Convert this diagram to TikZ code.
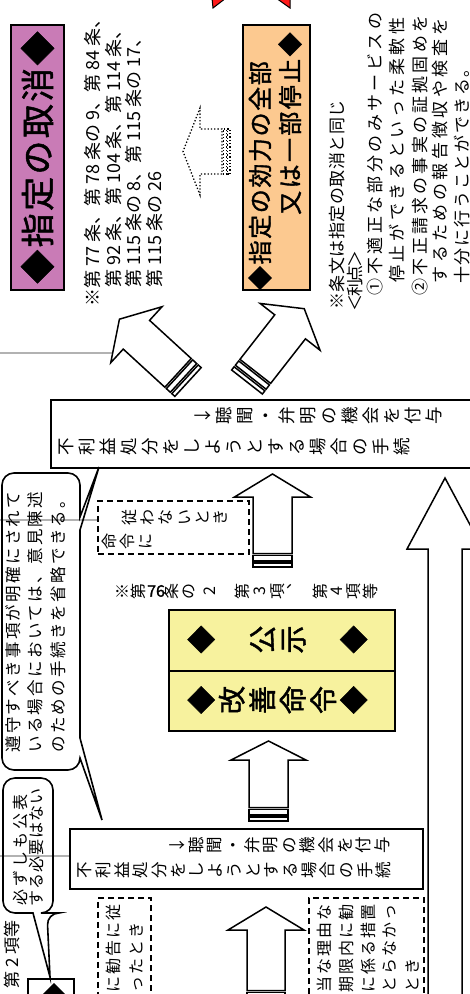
\documentclass[tikz,border=0pt]{standalone}
\usepackage{fontspec}
\usepackage{graphicx}
\setmainfont{Noto Sans CJK JP}
\newfontfamily\jpbold[FakeBold=1.5]{Noto Sans CJK JP}
\usetikzlibrary{calc}
\definecolor{pinkbox}{HTML}{C97BB6}
\definecolor{orangebox}{HTML}{FCC990}
\definecolor{yellowbox}{HTML}{F7F29E}
\definecolor{redarrow}{HTML}{FF1A1A}
\newcommand\fs[1]{\fontsize{#1}{#1}\selectfont}
\makeatletter
% horizontal text with a fixed pitch per character
\newcommand\yoko[2]{\def\yk@w{#1}\@tfor\yk@c:=#2\do{\makebox[\yk@w][c]{\yk@c}}}
% vertical column of upright characters (the node is then rotated)
\newcommand\tatecol[2]{\vbox{\baselineskip=#1\relax\lineskiplimit=-100pt\lineskip=0pt\@tfor\yk@c:=#2\do{\hbox to 1.1em{\hss\rule[-.12em]{0pt}{1em}\yk@c\hss}}}}
\makeatother
\tikzset{
  box/.style={draw, line width=1.8pt, inner sep=0pt},
  dashedbox/.style={draw, dash pattern=on 6pt off 4pt, line width=1.8pt, inner sep=0pt},
  txt/.style={inner sep=0pt},
  tcol/.style={inner sep=0pt, rotate=90, anchor=north},
  bubble/.style={draw, line width=1.6pt, line join=miter},
  grayline/.style={draw=black!30, line width=2.5pt},
  sarrowpart/.style={draw, fill=white, line width=1.5pt, line join=miter},
  pics/sarrow/.style args={#1/#2/#3/#4/#5}{code={%
    \path[sarrowpart] (0,-#3) rectangle ({0.3*#5},#3);
    \path[sarrowpart] ({0.45*#5},-#3) rectangle ({0.85*#5},#3);
    \path[sarrowpart] (#5,-#3) -- ({#1-#2},-#3) -- ({#1-#2},-#4) -- (#1,0) -- ({#1-#2},#4) -- ({#1-#2},#3) -- (#5,#3) -- cycle;
  }},
}
\begin{document}
\begin{tikzpicture}[x=1pt,y=-1pt]
\clip (0,0) rectangle (470,994);
\fill[white] (0,0) rectangle (470,994);

% gray leftover lines
\path[grayline] (0,353) -- (112,353);
\path[grayline] (0,520) -- (97,520);
\path[grayline] (0,856) -- (69,856);

% red arrow barbs at top
\draw[fill=redarrow, line width=1pt] (212,-2) -- (213,8) -- (226,-2) -- cycle;
\draw[fill=redarrow, line width=1pt] (276,-2) -- (290,8) -- (290,-2) -- cycle;

% top boxes
\node[box, fill=pinkbox, rotate=90, minimum width=265pt, minimum height=53pt, line width=2.2pt] (torikeshi) at (37.5,157.5) {\jpbold\fs{34}\yoko{36.4pt}{◆指定の取消◆}};
\node[box, fill=orangebox, rotate=90, minimum width=265pt, minimum height=67pt, line width=2.2pt] (teishi) at (276.5,157.5) {};
\node[txt, rotate=90, anchor=west] (teishiA) at (260,291) {\jpbold\fs{24}\yoko{25.6pt}{◆指定の効力の全部}};
\node[txt, rotate=90, anchor=east] (teishiB) at (290,31) {\jpbold\fs{24}\yoko{26.4pt}{又は一部停止◆}};

% article list
\node[txt, rotate=90, anchor=west, font=\fs{18}] (j1) at (92.5,307) {※第 77 条、第 78 条の 9、第 84 条、};
\node[txt, rotate=90, anchor=west, font=\fs{18}] (j2) at (113.5,288) {第 92 条、第 104 条、第 114 条、};
\node[txt, rotate=90, anchor=west, font=\fs{18}] (j3) at (134,288) {第 115 条の 8、第 115 条の 17、};
\node[txt, rotate=90, anchor=west, font=\fs{18}] (j4) at (155,288) {第 115 条の 26};

% notes on the right
\node[txt, rotate=90, anchor=west] (n1) at (337,310) {\fs{17}\yoko{17.5pt}{※条文は指定の取消と同じ}};
\node[txt, rotate=90, anchor=west] (n2) at (355,310) {\fs{17}\yoko{14.5pt}{＜利点＞}};
\node[txt, rotate=90, anchor=west] (n3) at (375,297) {\fs{17}\yoko{20.4pt}{①不適正な部分のみサービスの}};
\node[txt, rotate=90, anchor=west] (n4) at (397,285) {\fs{17}\yoko{20.7pt}{停止ができるといった柔軟性}};
\node[txt, rotate=90, anchor=west] (n5) at (420,297) {\fs{17}\yoko{20.2pt}{②不正請求の事実の証拠固めを}};
\node[txt, rotate=90, anchor=west] (n6) at (440,285) {\fs{17}\yoko{20.6pt}{するための報告徴収や検査を}};
\node[txt, rotate=90, anchor=west] (n7) at (462,285) {\fs{17}\yoko{18.8pt}{十分に行うことができる。}};

% dotted arrow
\pic[rotate=180, sarrowpart/.style={draw, dotted, line width=1.3pt}] at (230,151.5) {sarrow=47/17/22.5/43.5/8};

% diagonal arrows
\pic[rotate=137.5] at (188,382) {sarrow=93/23/19.5/38/13.5};
\pic[rotate=52] at (247,382) {sarrow=93/23/19.5/38/13.5};

% procedure box 1
\node[box, minimum width=426pt, minimum height=68pt, anchor=north west] (tetsuzuki1) at (50,399) {};
\node[tcol, font=\fs{17.5}] (t1a) at (194,416) {\tatecol{21pt}{↓聴聞・弁明の機会を付与}};
\node[tcol, font=\fs{17.5}] (t1b) at (57,447) {\tatecol{21pt}{不利益処分をしようとする場合の手続}};

% speech bubble 1
\draw[bubble] (40,473) [rounded corners=12pt] -- (80,473) -- (80,500) [sharp corners] -- (80,517) -- (99,467) -- (80,530) -- (80,738) -- (102,820) -- (80,758) [rounded corners=12pt] -- (80,770) -- (2,770) -- (2,473) -- (40,473);
\node[txt, rotate=90, anchor=west] (b1a) at (13.5,754) {\fs{16.5}\yoko{18.8pt}{遵守すべき事項が明確にされて}};
\node[txt, rotate=90, anchor=west] (b1b) at (35.5,754) {\fs{16.5}\yoko{18.8pt}{いる場合においては、意見陳述}};
\node[txt, rotate=90, anchor=west] (b1c) at (58.5,754) {\fs{16.5}\yoko{18.8pt}{のための手続きを省略できる。}};

% dashed box: meirei ni shitagawanai
\node[dashedbox, minimum width=151pt, minimum height=53pt, anchor=north west] (shitagawanai) at (97,500) {};
\node[tcol, font=\fs{16}] (s1) at (121,517) {\tatecol{18.3pt}{従わないとき}};
\node[tcol, font=\fs{16}] (s2) at (101,541) {\tatecol{18.3pt}{命令に}};

% arrow B
\pic[rotate=90] at (272.5,567) {sarrow=93/23/19.5/38/13.5};

% article note (vertical writing)
\node[tcol, font=\fs{16}] (art1) at (114,591) {\tatecol{16.5pt}{※第}};
\node[txt, anchor=west, font=\jpbold\fs{16}] (art2) at (147,591) {76};
\node[tcol, font=\fs{16}] (art3) at (163,591) {\tatecol{16.8pt}{条の}};
\node[tcol, font=\fs{16}] (art4) at (201,591) {\tatecol{16.8pt}{2}};
\node[tcol, font=\fs{16}] (art5) at (234,591) {\tatecol{17.5pt}{第3項︑}};
\node[tcol, font=\fs{16}] (art6) at (312,591) {\tatecol{16.7pt}{第4項等}};

% yellow boxes
\node[box, fill=yellowbox, minimum width=226pt, minimum height=61pt, anchor=north west] (koji) at (168,609) {};
\node[box, fill=yellowbox, minimum width=226pt, minimum height=60pt, anchor=north west] (meirei) at (168,670) {};
\node[tcol, font=\jpbold\fs{28}] (kojit) at (187,639.5) {\tatecol{30.5pt}{◆　公示　◆}};
\node[tcol, font=\jpbold\fs{28}] (meireit) at (187,700) {\tatecol{30.5pt}{◆改善命令◆}};

% arrow D
\pic[rotate=90] at (268.5,821) {sarrow=80/19/19.5/37.5/13.5};

% big right arrow F
\path[sarrowpart] (428,1000) -- (428,549) -- (407,549) -- (445,478) -- (483,549) -- (462,549) -- (462,1000);

% speech bubble 2
\draw[bubble] (28,778) [rounded corners=12pt] -- (53,778) -- (53,913) -- (47,913) [sharp corners] -- (50,977) -- (33,913) [rounded corners=12pt] -- (3,913) -- (3,778) -- (28,778);
\node[txt, rotate=90, anchor=west] (b2a) at (20,907) {\fs{16}\yoko{19pt}{必ずしも公表}};
\node[txt, rotate=90, anchor=west] (b2b) at (36.5,907) {\fs{16}\yoko{17pt}{する必要はない}};

% procedure box 2
\node[box, minimum width=353pt, minimum height=60pt, anchor=north west] (tetsuzuki2) at (69,828) {};
\node[tcol, font=\fs{16.5}] (t2a) at (169,845) {\tatecol{18.6pt}{↓聴聞・弁明の機会を付与}};
\node[tcol, font=\fs{16.5}] (t2b) at (76,870) {\tatecol{18.7pt}{不利益処分をしようとする場合の手続}};

% bottom left
\node[txt, rotate=90, anchor=east, font=\fs{17}] (dai2) at (12,920) {第 2 項等};
\node[box, minimum width=46pt, minimum height=30pt, anchor=north west] (kohyo) at (27,978) {};
\node[txt, rotate=90] (kohyod) at (54,996) {\jpbold\fs{26}◆};

% bottom dashed boxes
\node[dashedbox, minimum width=53pt, minimum height=110pt, anchor=north west] (kankoku) at (97,897) {};
\node[txt, rotate=90, anchor=east] (k1) at (113.5,903) {\fs{16}\yoko{18pt}{に勧告に従}};
\node[txt, rotate=90, anchor=east] (k2) at (136.5,921) {\fs{16}\yoko{18pt}{ったとき}};
\node[dashedbox, minimum width=115pt, minimum height=110pt, anchor=north west] (sochi) at (308,897) {};
\node[txt, rotate=90, anchor=east] (c1) at (324,903) {\fs{16}\yoko{18pt}{当な理由な}};
\node[txt, rotate=90, anchor=east] (c2) at (346,903) {\fs{16}\yoko{18pt}{期限内に勧}};
\node[txt, rotate=90, anchor=east] (c3) at (368,903) {\fs{16}\yoko{18pt}{に係る措置}};
\node[txt, rotate=90, anchor=east] (c4) at (390,903) {\fs{16}\yoko{18pt}{とらなかっ}};
\node[txt, rotate=90, anchor=east] (c5) at (412,957) {\fs{16}\yoko{18pt}{とき}};

% arrow E
\pic[rotate=90] at (266,1004) {sarrow=97/23/19/38/13.5};
\end{tikzpicture}
\end{document}
